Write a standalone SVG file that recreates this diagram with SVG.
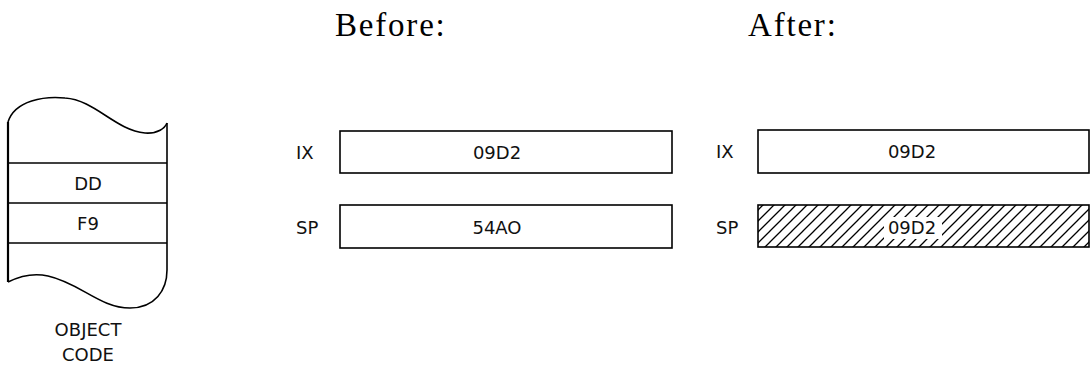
<svg xmlns="http://www.w3.org/2000/svg" width="1091" height="365" viewBox="0 0 1091 365">
<style>
.title{font-family:"Liberation Serif",serif;font-size:33px;letter-spacing:1.8px;fill:#000}
.lbl{font-family:"DejaVu Sans","Liberation Sans",sans-serif;font-size:18px;fill:#111}
.val{font-family:"DejaVu Sans","Liberation Sans",sans-serif;font-size:18px;fill:#111;text-anchor:middle}
.box{fill:#fff;stroke:#000;stroke-width:1.6}
.ln{fill:none;stroke:#000;stroke-width:1.6}
</style>
<defs>
<pattern id="hatch" patternUnits="userSpaceOnUse" width="11" height="11">
<path d="M-1,12 L12,-1 M-6,6 L6,-6 M5,17 L17,5" stroke="#000" stroke-width="1.3"/>
</pattern>
</defs>
<rect width="1091" height="365" fill="#fff"/>
<text class="title" x="335" y="36">Before:</text>
<text class="title" x="748" y="36">After:</text>

<g id="object-code">
<path class="ln" d="M8,122 C15,100 45,96 65,98 C95,100 115,130 145,133 C158,134 165,128 167,123"/>
<path class="ln" d="M8,282 C20,276 35,273 48,276 C80,283 100,308 130,308 C155,308 167,290 167,270"/>
<line x1="8" y1="122" x2="8" y2="282" stroke="#000" stroke-width="2.2"/>
<line class="ln" x1="167" y1="123" x2="167" y2="270"/>
<line class="ln" x1="8" y1="163" x2="167" y2="163"/>
<line class="ln" x1="8" y1="203" x2="167" y2="203"/>
<line class="ln" x1="8" y1="243" x2="167" y2="243"/>
<text class="val" x="88" y="190">DD</text>
<text class="val" x="88" y="230">F9</text>
<text class="val" x="88" y="336">OBJECT</text>
<text class="val" x="88" y="361">CODE</text>
</g>

<g id="before-ix">
<text class="lbl" x="296" y="159">IX</text>
<rect class="box" x="340" y="131" width="332" height="42"/>
<text class="val" x="497" y="159">09D2</text>
</g>
<g id="before-sp">
<text class="lbl" x="296" y="234">SP</text>
<rect class="box" x="340" y="205" width="332" height="43"/>
<text class="val" x="497" y="234">54AO</text>
</g>

<g id="after-ix">
<text class="lbl" x="716" y="158">IX</text>
<rect class="box" x="758" y="130" width="331" height="43"/>
<text class="val" x="912" y="158">09D2</text>
</g>
<g id="after-sp">
<text class="lbl" x="716" y="234">SP</text>
<rect x="758" y="205" width="331" height="42" fill="url(#hatch)" stroke="#000" stroke-width="1.6"/>
<rect x="884" y="217" width="58" height="22" fill="#fff"/>
<text class="val" x="912" y="234">09D2</text>
</g>
<g id="connectors"/>
</svg>
